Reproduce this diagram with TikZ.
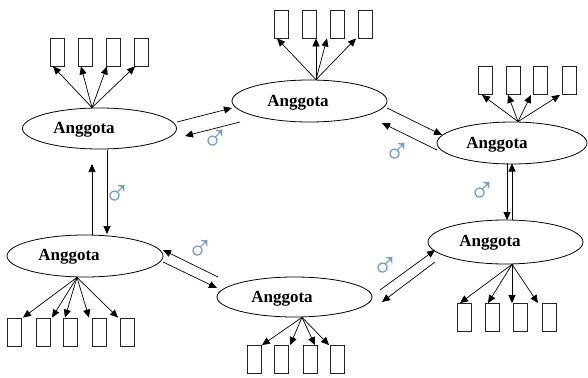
\documentclass[tikz,border=0pt]{standalone}
\usepackage{fontspec}
\setmainfont{Liberation Serif}
\newfontfamily\symfont{Liberation Serif}
\usetikzlibrary{shapes.geometric,arrows.meta,calc}
\definecolor{symblue}{RGB}{110,150,210}
\tikzset{
  ell/.style={ellipse, draw, line width=0.8pt, inner sep=0pt},
  bx/.style={rectangle, draw=black!85, line width=0.8pt, minimum width=14pt, minimum height=28pt, inner sep=0pt},
  arr/.style={-{Triangle[length=8pt,width=7pt]}, line width=0.7pt},
  lbl/.style={font=\fontsize{17}{17}\selectfont\bfseries, inner sep=0pt},
  sym/.style={font=\symfont\fontsize{36}{36}\selectfont, text=symblue, inner sep=0pt}
}
\begin{document}
\begin{tikzpicture}[x=1pt,y=-1pt]
\useasboundingbox (0,0) rectangle (588,377);
% ellipses
\node[ell, minimum width=154pt, minimum height=41pt] (e1) at (99.5,128.5) {};
\node[ell, minimum width=155pt, minimum height=42pt] (e2) at (309.5,101) {};
\node[ell, minimum width=150pt, minimum height=42pt] (e3) at (512,143) {};
\node[ell, minimum width=155pt, minimum height=44pt] (e4) at (505.5,242) {};
\node[ell, minimum width=155pt, minimum height=40pt] (e5) at (294.5,297) {};
\node[ell, minimum width=156pt, minimum height=42pt] (e6) at (85,256) {};
% labels
\node[lbl] (t1) at (84,130) {Anggota};
\node[lbl] (t2) at (298,102.5) {Anggota};
\node[lbl] (t3) at (497,144.5) {Anggota};
\node[lbl] (t4) at (490,243) {Anggota};
\node[lbl] (t5) at (282,298.5) {Anggota};
\node[lbl] (t6) at (69,257) {Anggota};
% boxes TL
\node[bx] (b1a) at (57,52) {};
\node[bx] (b1b) at (85,52) {};
\node[bx] (b1c) at (113,52) {};
\node[bx] (b1d) at (141,52) {};
% boxes TM
\node[bx] (b2a) at (281,24) {};
\node[bx] (b2b) at (309,24) {};
\node[bx] (b2c) at (337,24) {};
\node[bx] (b2d) at (365.5,24) {};
% boxes TR
\node[bx] (b3a) at (485.5,80.5) {};
\node[bx] (b3b) at (513,80.5) {};
\node[bx] (b3c) at (540.5,80.5) {};
\node[bx] (b3d) at (569,80.5) {};
% boxes MR
\node[bx] (b4a) at (464,317.5) {};
\node[bx] (b4b) at (492,317.5) {};
\node[bx] (b4c) at (520,317.5) {};
\node[bx] (b4d) at (549,317.5) {};
% boxes BM
\node[bx] (b5a) at (254,359.5) {};
\node[bx] (b5b) at (281,359.5) {};
\node[bx] (b5c) at (310,359.5) {};
\node[bx] (b5d) at (337.5,359.5) {};
% boxes ML
\node[bx] (b6a) at (14.5,332) {};
\node[bx] (b6b) at (43,332) {};
\node[bx] (b6c) at (70.5,332) {};
\node[bx] (b6d) at (99,332) {};
\node[bx] (b6e) at (127,332) {};
% fan arrows
\coordinate (s1) at ([xshift=-7.5pt]e1.north);
\draw[arr] (s1) -- ([xshift=-4pt]b1a.south);
\draw[arr] (s1) -- ([xshift=-4pt]b1b.south);
\draw[arr] (s1) -- ([xshift=-6pt]b1c.south);
\draw[arr] (s1) -- ([xshift=-6pt]b1d.south);
\coordinate (s2) at ([xshift=6.5pt]e2.north);
\draw[arr] (s2) -- ([xshift=-4pt]b2a.south);
\draw[arr] (s2) -- ([xshift=7pt]b2b.south);
\draw[arr] (s2) -- ([xshift=-10pt]b2c.south);
\draw[arr] (s2) -- ([xshift=-9.5pt]b2d.south);
\coordinate (s3) at ([xshift=6pt]e3.north);
\draw[arr] (s3) -- ([xshift=-3.5pt]b3a.south);
\draw[arr] (s3) -- ([xshift=-5pt]b3b.south);
\draw[arr] (s3) -- ([xshift=-9.5pt]b3c.south);
\draw[arr] (s3) -- ([xshift=-9pt]b3d.south);
\coordinate (s4) at ([xshift=6.5pt]e4.south);
\draw[arr] (s4) -- ([xshift=-4pt]b4a.north);
\draw[arr] (s4) -- ([xshift=-4pt]b4b.north);
\draw[arr] (s4) -- ([xshift=-8pt]b4c.north);
\draw[arr] (s4) -- ([xshift=-11pt]b4d.north);
\coordinate (s5) at ([xshift=7.5pt]e5.south);
\draw[arr] (s5) -- ([xshift=8pt]b5a.north);
\draw[arr] (s5) -- ([xshift=9pt]b5b.north);
\draw[arr] (s5) -- ([xshift=5pt]b5c.north);
\draw[arr] (s5) -- ([xshift=-8.5pt]b5d.north);
\coordinate (s6) at ([xshift=-8pt]e6.south);
\draw[arr] (s6) -- ([xshift=8.5pt]b6a.north);
\draw[arr] (s6) -- ([xshift=9pt]b6b.north);
\draw[arr] (s6) -- ([xshift=-5.5pt]b6c.north);
\draw[arr] (s6) -- ([xshift=-10pt]b6d.north);
\draw[arr] (s6) -- ([xshift=-9pt]b6e.north);
% ring connectors
\draw[arr] ($(e1)+(77.5,-6.5)$) -- ($(e2)+(-77.5,7)$);
\draw[arr] ($(e2)+(-69.5,21)$) -- ($(e1)+(85.5,7.5)$);
\node[sym] (m1) at (215,140) {♂};
\draw[arr] ($(e2)+(77.5,7)$) -- ($(e3)+(-70,-8)$);
\draw[arr] ($(e3)+(-75,7)$) -- ($(e2)+(72.5,22)$);
\node[sym] (m2) at (397,153) {♂};
\draw[arr] ($(e3)+(-5,20)$) -- ($(e4)+(1.5,-22)$);
\draw[arr] ($(e4)+(6.5,-22)$) -- ($(e3)+(0,20.5)$);
\node[sym] (m3) at (482,192) {♂};
\draw[arr] ($(e5)+(85.5,-7)$) -- ($(e4)+(-70.5,8)$);
\draw[arr] ($(e4)+(-70.5,20)$) -- ($(e5)+(87.5,5)$);
\node[sym] (m4) at (385,267) {♂};
\draw[arr] ($(e6)+(78,6)$) -- ($(e5)+(-77.5,-9)$);
\draw[arr] ($(e5)+(-76.5,-20)$) -- ($(e6)+(78,-6)$);
\node[sym] (m5) at (200,250) {♂};
\draw[arr] ($(e1)+(7.5,21.5)$) -- ($(e6)+(22,-22)$);
\draw[arr] ($(e6)+(7,-21)$) -- ($(e1)+(-7.5,35.5)$);
\node[sym] (m6) at (117,195) {♂};
\end{tikzpicture}
\end{document}
